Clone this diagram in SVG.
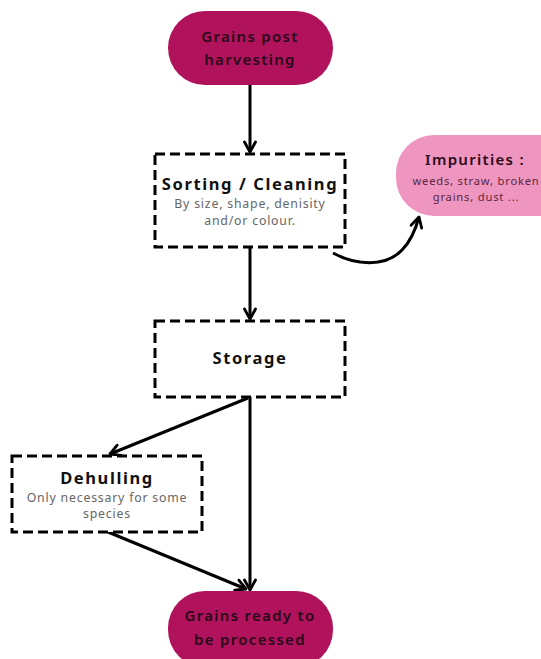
<svg xmlns="http://www.w3.org/2000/svg" width="541" height="659" viewBox="0 0 541 659">
<defs>
<style>
.pill{fill:#B0125C}
.pink{fill:#EE96C0}
.box{fill:#fff;stroke:#000;stroke-width:3;stroke-dasharray:10 5}
.t{font-family:"Noto Sans","Open Sans",sans-serif;font-weight:bold;font-size:16.5px;letter-spacing:1.6px;text-anchor:middle;fill:#111}
.pt{font-family:"Noto Sans","Open Sans",sans-serif;font-weight:600;font-size:15px;letter-spacing:1.3px;text-anchor:middle;fill:#2a0a18}
.s{font-family:"Noto Sans","Open Sans",sans-serif;font-size:12.3px;letter-spacing:0.8px;text-anchor:middle;fill:#666}
.si{font-family:"Noto Sans","Open Sans",sans-serif;font-size:11.2px;letter-spacing:0.8px;text-anchor:middle;fill:#5a2640}
.c{fill:none;stroke:#000;stroke-width:3;marker-end:url(#ah)}
</style>
<marker id="ah" viewBox="0 0 14 14" refX="12" refY="7" markerWidth="14" markerHeight="14" markerUnits="userSpaceOnUse" orient="auto">
<polyline points="2,1.5 12,7 2,12.5" fill="none" stroke="#000" stroke-width="2.8" stroke-linecap="round" stroke-linejoin="round"/>
</marker>
</defs>
<g id="connectors">
<line class="c" x1="250" y1="85" x2="250" y2="152"/>
<path class="c" d="M333,253 C355,265 385,268 402,250 C412,240 416,228 419,217"/>
<line class="c" x1="250" y1="247" x2="250" y2="319"/>
<line class="c" x1="250" y1="397" x2="250" y2="590"/>
<line class="c" x1="248" y1="398" x2="110" y2="454"/>
<line class="c" x1="108" y1="532" x2="246" y2="589"/>
</g>
<g id="n1">
<rect class="pill" x="168" y="11" width="165" height="74" rx="37"/>
<text class="pt" x="250" y="42">Grains post</text>
<text class="pt" x="250" y="65">harvesting</text>
</g>
<g id="n2">
<rect class="box" x="155" y="154" width="190" height="93"/>
<text class="t" x="250" y="190">Sorting / Cleaning</text>
<text class="s" x="250" y="208">By size, shape, denisity</text>
<text class="s" x="250" y="225">and/or colour.</text>
</g>
<g id="n3">
<rect class="pink" x="396" y="135" width="180" height="81" rx="38"/>
<text class="pt" x="475" y="165">Impurities :</text>
<text class="si" x="476" y="185">weeds, straw, broken</text>
<text class="si" x="476" y="201">grains, dust ...</text>
</g>
<g id="n4">
<rect class="box" x="155" y="321" width="190" height="76"/>
<text class="t" x="250" y="364">Storage</text>
</g>
<g id="n5">
<rect class="box" x="12" y="456" width="190" height="76"/>
<text class="t" x="107" y="484">Dehulling</text>
<text class="s" x="107" y="502">Only necessary for some</text>
<text class="s" x="107" y="518">species</text>
</g>
<g id="n6">
<rect class="pill" x="168" y="591" width="165" height="76" rx="37"/>
<text class="pt" x="250" y="621">Grains ready to</text>
<text class="pt" x="250" y="645">be processed</text>
</g>
</svg>
